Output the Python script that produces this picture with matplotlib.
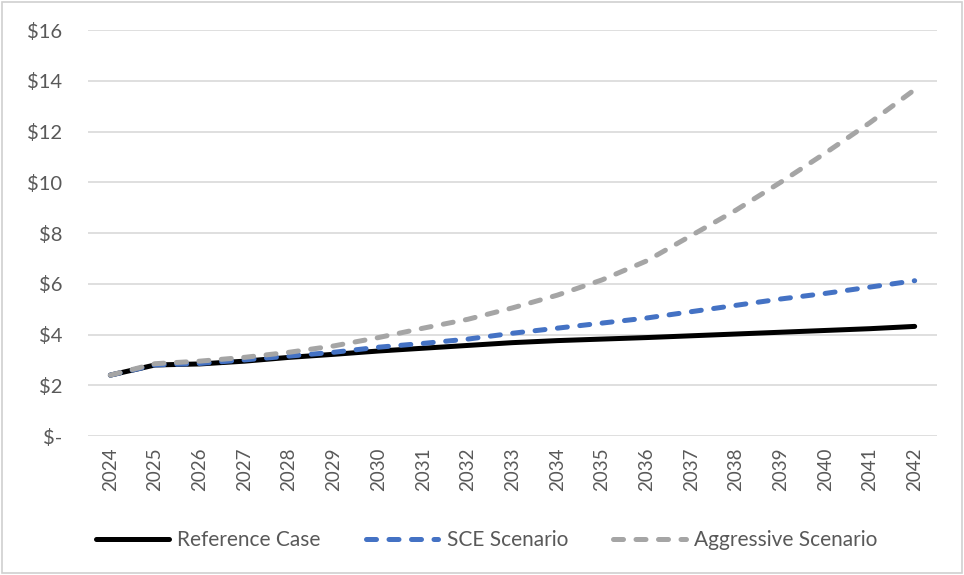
import matplotlib.pyplot as plt
from matplotlib.patches import Rectangle

# values ($)
years = list(range(2024, 2043))
reference = [2.40, 2.80, 2.84, 2.95, 3.10, 3.22, 3.35, 3.46, 3.57, 3.68, 3.76, 3.82,
             3.88, 3.95, 4.02, 4.09, 4.16, 4.23, 4.32]
sce = [2.40, 2.80, 2.86, 3.00, 3.15, 3.30, 3.50, 3.65, 3.82, 4.05, 4.25, 4.45,
       4.65, 4.90, 5.15, 5.40, 5.62, 5.87, 6.12]
aggressive = [2.40, 2.85, 2.95, 3.10, 3.30, 3.55, 3.88, 4.25, 4.60, 5.05, 5.55, 6.15,
              6.90, 7.90, 8.90, 10.00, 11.15, 12.35, 13.65]
yticks = [0, 2, 4, 6, 8, 10, 12, 14, 16]
ytick_labels = ["$-", "$2", "$4", "$6", "$8", "$10", "$12", "$14", "$16"]

plt.rcParams['font.family'] = ['Lato', 'DejaVu Sans']
text_col = '#595959'

fig = plt.figure(figsize=(9.64, 5.75), dpi=100)
ax = fig.add_axes([0.0913, 0.2417, 0.8807, 0.7061])

ax.plot(years, reference, color='black', lw=3.6, solid_capstyle='round',
        label='Reference Case', zorder=3)
ax.plot(years, sce, color='#4472C4', lw=3.6, dashes=(2.0, 2.5),
        dash_capstyle='round', label='SCE Scenario', zorder=4)
ax.plot(years, aggressive, color='#A5A5A5', lw=3.6, dashes=(2.0, 2.5),
        dash_capstyle='round', label='Aggressive Scenario', zorder=5)

ax.set_xlim(2023.5, 2042.5)
ax.set_ylim(0, 16)
ax.set_xticks(years)
ax.set_xticklabels([str(y) for y in years], rotation=90)
ax.set_yticks(yticks)
ax.set_yticklabels(ytick_labels)
ax.tick_params(axis='both', length=0, colors=text_col)
ax.tick_params(axis='y', pad=18.5, labelsize=14.5)
ax.tick_params(axis='x', pad=8.5, labelsize=13.5)
ax.grid(axis='y', color='#D9D9D9', lw=1.2)
ax.set_axisbelow(True)
for s in ax.spines.values():
    s.set_visible(False)

fig.legend(loc='center', bbox_to_anchor=(0.505, 0.061), ncol=3, frameon=False,
           fontsize=15, handlelength=3.5, columnspacing=2.15, handletextpad=0.4,
           labelcolor=text_col)

fig.patches.append(Rectangle((0.002, 0.003), 0.996, 0.994, transform=fig.transFigure,
                             fill=False, edgecolor='#D0D0D0', lw=1.2))

fig.savefig('out.png', dpi=100)
